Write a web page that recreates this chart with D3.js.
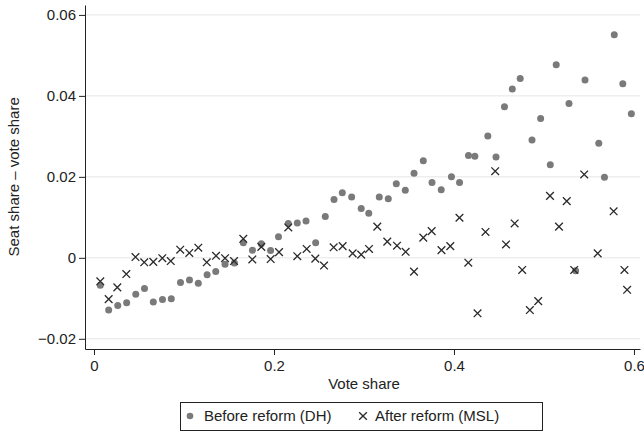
<!DOCTYPE html>
<html>
<head>
<meta charset="utf-8">
<script src="https://cdn.jsdelivr.net/npm/d3@7"></script>
<style>
  body { margin: 0; background: #fff; }
  text { font-family: "Liberation Sans", Arial, sans-serif; fill: #222; }
</style>
</head>
<body>
<div class="vis-scatterplot"></div>
<script>
// before reform (DH), dots
const dhVote = [0.0070, 0.0163, 0.0264, 0.0363, 0.0464, 0.0561, 0.0659, 0.0761, 0.0859, 0.0961,
  0.1061, 0.1159, 0.1257, 0.1353, 0.1456, 0.1560, 0.1659, 0.1761, 0.1859, 0.1962,
  0.2050, 0.2159, 0.2259, 0.2356, 0.2463, 0.2570, 0.2667, 0.2759, 0.2863, 0.2969,
  0.3053, 0.3170, 0.3270, 0.3359, 0.3459, 0.3556, 0.3659, 0.3756, 0.3858, 0.3972,
  0.4062, 0.4161, 0.4232, 0.4376, 0.4467, 0.4561, 0.4648, 0.4736, 0.4867, 0.4963,
  0.5070, 0.5136, 0.5278, 0.5352, 0.5456, 0.5609, 0.5672, 0.5781, 0.5876, 0.5971];
const dhGap = [-0.0068, -0.0129, -0.0118, -0.0111, -0.0090, -0.0076, -0.0109, -0.0103, -0.0101, -0.0061,
  -0.0055, -0.0063, -0.0042, -0.0034, -0.0016, -0.0013, 0.0037, 0.0019, 0.0035, 0.0018,
  0.0052, 0.0085, 0.0086, 0.0091, 0.0037, 0.0102, 0.0144, 0.0161, 0.0150, 0.0122,
  0.0110, 0.0150, 0.0146, 0.0183, 0.0167, 0.0209, 0.0240, 0.0186, 0.0168, 0.0200,
  0.0186, 0.0253, 0.0251, 0.0301, 0.0249, 0.0373, 0.0417, 0.0443, 0.0291, 0.0344,
  0.0230, 0.0477, 0.0381, -0.0032, 0.0439, 0.0283, 0.0199, 0.0551, 0.0430, 0.0356];

// after reform (MSL), crosses
const mslVote = [0.0070, 0.0163, 0.0259, 0.0359, 0.0461, 0.0558, 0.0659, 0.0759, 0.0853, 0.0958,
  0.1059, 0.1159, 0.1253, 0.1356, 0.1456, 0.1556, 0.1659, 0.1759, 0.1859, 0.1963,
  0.2056, 0.2159, 0.2259, 0.2363, 0.2459, 0.2556, 0.2663, 0.2763, 0.2874, 0.2969,
  0.3056, 0.3148, 0.3259, 0.3367, 0.3463, 0.3556, 0.3659, 0.3752, 0.3861, 0.3959,
  0.4061, 0.4159, 0.4262, 0.4350, 0.4458, 0.4578, 0.4674, 0.4758, 0.4843, 0.4936,
  0.5067, 0.5167, 0.5253, 0.5336, 0.5447, 0.5597, 0.5774, 0.5894, 0.5924];
const mslGap = [-0.0058, -0.0102, -0.0073, -0.0040, 0.0002, -0.0011, -0.0010, -0.0001, -0.0008, 0.0020,
  0.0012, 0.0025, -0.0011, 0.0005, -0.0001, -0.0008, 0.0047, -0.0004, 0.0027, -0.0003,
  0.0014, 0.0075, 0.0004, 0.0022, -0.0002, -0.0019, 0.0026, 0.0029, 0.0011, 0.0008,
  0.0022, 0.0077, 0.0040, 0.0030, 0.0015, -0.0034, 0.0050, 0.0066, 0.0019, 0.0029,
  0.0099, -0.0012, -0.0137, 0.0064, 0.0214, 0.0033, 0.0085, -0.0030, -0.0129, -0.0107,
  0.0153, 0.0077, 0.0140, -0.0030, 0.0206, 0.0011, 0.0115, -0.0030, -0.0079];

const xTicks = [0, 0.2, 0.4, 0.6];
const yTicks = [-0.02, 0, 0.02, 0.04, 0.06];
const seriesNames = ["Before reform (DH)", "After reform (MSL)"];

const W = 644, H = 432;
const margin = { top: 5, right: 4, bottom: 83, left: 85 };
const width = W - margin.left - margin.right;
const height = H - margin.top - margin.bottom;

const svg = d3.select(".vis-scatterplot")
  .append("svg")
  .attr("width", W)
  .attr("height", H);

const g = svg.append("g")
  .attr("transform", "translate(" + margin.left + "," + margin.top + ")");

const x = d3.scaleLinear().domain([-0.0100, 0.6067]).range([0, width]);
const y = d3.scaleLinear().domain([-0.02252, 0.06245]).range([height, 0]);

// grid lines
g.append("g")
  .selectAll("line")
  .data(yTicks)
  .enter()
  .append("line")
  .attr("x1", 0)
  .attr("x2", width)
  .attr("y1", d => y(d))
  .attr("y2", d => y(d))
  .attr("stroke", "#e6e6e6")
  .attr("stroke-width", 1);

const fmtY = d => d === 0 ? "0" : d3.format(".2f")(d).replace("-", "\u2212");

// y axis
const yAxis = g.append("g")
  .call(d3.axisLeft(y).tickValues(yTicks).tickFormat(fmtY).tickSize(6).tickSizeOuter(0));
yAxis.select(".domain").attr("stroke", "#222");
yAxis.selectAll(".tick line").attr("stroke", "#222");
yAxis.selectAll("text").style("font-size", "15px").attr("fill", "#222").attr("x", -9);

// x axis
const xAxis = g.append("g")
  .attr("transform", "translate(0," + height + ")")
  .call(d3.axisBottom(x).tickValues(xTicks).tickFormat(d => d === 0 ? "0" : d3.format(".1f")(d)).tickSize(6).tickSizeOuter(0));
xAxis.select(".domain").attr("stroke", "#222");
xAxis.selectAll(".tick line").attr("stroke", "#222");
xAxis.selectAll("text").style("font-size", "15px").attr("fill", "#222").attr("y", 11);

// axis titles
svg.append("text")
  .attr("transform", "translate(19," + (margin.top + y(0.02)) + ") rotate(-90)")
  .attr("text-anchor", "middle")
  .style("font-size", "15px")
  .text("Seat share \u2013 vote share");

svg.append("text")
  .attr("x", margin.left + x(0.3))
  .attr("y", 389)
  .attr("text-anchor", "middle")
  .style("font-size", "15px")
  .text("Vote share");

// before reform dots
g.append("g")
  .selectAll("circle")
  .data(dhVote)
  .enter()
  .append("circle")
  .attr("cx", (d, i) => x(d))
  .attr("cy", (d, i) => y(dhGap[i]))
  .attr("r", 3.5)
  .style("fill", "#7a7a7a");

// after reform crosses
const cross = d3.symbol().type(d3.symbolX).size(40);
g.append("g")
  .selectAll("path")
  .data(mslVote)
  .enter()
  .append("path")
  .attr("d", cross)
  .attr("transform", (d, i) => "translate(" + x(d) + "," + y(mslGap[i]) + ")")
  .attr("fill", "none")
  .attr("stroke", "#2a2a2a")
  .attr("stroke-width", 1.3);

// legend
const leg = svg.append("g").attr("transform", "translate(180,402)");
leg.append("rect")
  .attr("x", 0.5).attr("y", 0.5)
  .attr("width", 362).attr("height", 28)
  .attr("fill", "#fff")
  .attr("stroke", "#222");
leg.append("circle").attr("cx", 10).attr("cy", 14).attr("r", 3.3).style("fill", "#7a7a7a");
leg.append("text").attr("x", 24).attr("y", 19).style("font-size", "15px").text(seriesNames[0]);
leg.append("path")
  .attr("d", cross)
  .attr("transform", "translate(183,14)")
  .attr("fill", "none").attr("stroke", "#2a2a2a").attr("stroke-width", 1.3);
leg.append("text").attr("x", 195).attr("y", 19).style("font-size", "15px").text(seriesNames[1]);
</script>
</body>
</html>
